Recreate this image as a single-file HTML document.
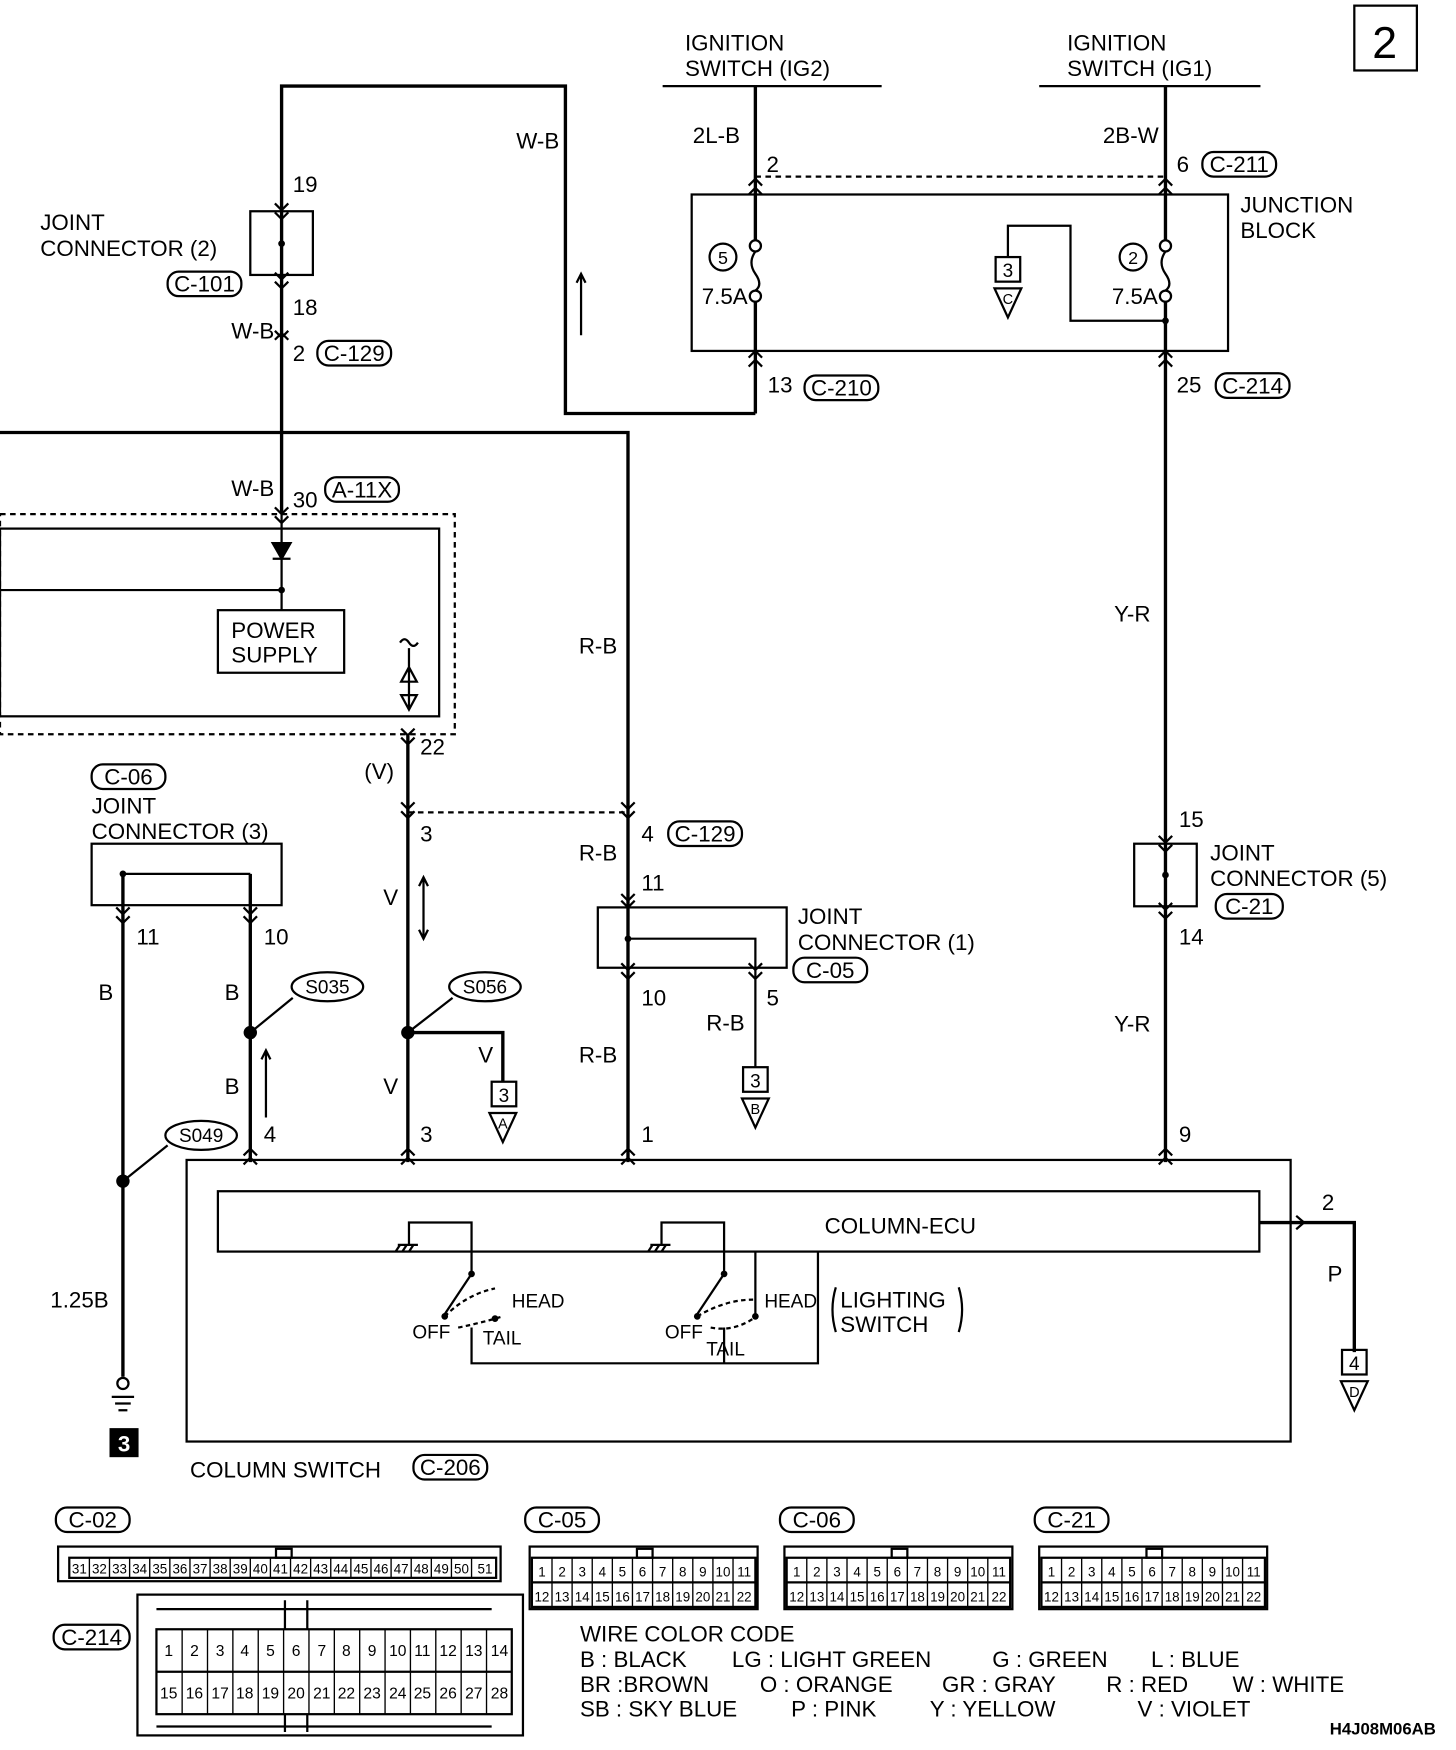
<!DOCTYPE html>
<html><head><meta charset="utf-8"><style>
html,body{margin:0;padding:0;background:#fff;}
svg{display:block}
text{font-family:"Liberation Sans",sans-serif;fill:#000}
.l{font-size:20px}
.p{font-size:12px;text-anchor:middle}
.c{text-anchor:middle}
</style></head><body>
<svg width="1456" height="1750" viewBox="0 0 1303 1566" xmlns="http://www.w3.org/2000/svg">
<g fill="none" stroke="#000" stroke-width="2">
<rect x="1212" y="5" width="56" height="58"/>
<line x1="593" y1="77" x2="789" y2="77"/>
<line x1="930" y1="77" x2="1128" y2="77"/>
<line x1="676" y1="77" x2="676" y2="215" stroke-width="3"/>
<line x1="676" y1="270" x2="676" y2="370" stroke-width="3"/>
<line x1="1043" y1="77" x2="1043" y2="215" stroke-width="3"/>
<line x1="1043" y1="270" x2="1043" y2="1040" stroke-width="3"/>
<line x1="676" y1="158" x2="1043" y2="158" stroke-dasharray="5,4"/>
<rect x="619" y="174" width="480" height="140"/>
<circle cx="676" cy="220" r="5"/><circle cx="676" cy="265" r="5"/>
<circle cx="1043" cy="220" r="5"/><circle cx="1043" cy="265" r="5"/>
<path d="M676 225 q-7 10 0 20 q7 10 0 15 M1043 225 q-7 10 0 20 q7 10 0 15"/>
<path d="M902 230 V202 H958 V287 H1043"/>
<rect x="891" y="230" width="22" height="22"/><path d="M890 258 L914 258 L902 284 Z"/>
<circle cx="647" cy="230" r="12"/><circle cx="1014" cy="230" r="12"/>
<path d="M676 370 H506 V77 H252 V460" stroke-width="3"/>
<path d="M520 300 V245 M516 253 L520 245 L524 253"/>
<rect x="224" y="189" width="56" height="57"/>
<path d="M0 387 H562 V1040" stroke-width="3"/>
<rect x="0" y="460" width="407" height="197" stroke-dasharray="5,4"/>
<rect x="0" y="473" width="393" height="168"/>
<line x1="252" y1="460" x2="252" y2="528"/>
<path d="M244 486 L260 486 L252 500 Z M244 500 H260" fill="#000"/>
<line x1="0" y1="528" x2="252" y2="528"/><line x1="252" y1="528" x2="252" y2="546"/>
<rect x="195" y="546" width="113" height="56"/>
<path d="M358 575 q4 -6 8 0 q4 6 8 0 M366 580 V635 M359 610 L373 610 L366 597 Z M359 622 L373 622 L366 635 Z"/>
<line x1="365" y1="657" x2="365" y2="1040" stroke-width="3"/>
<line x1="365" y1="727" x2="562" y2="727" stroke-dasharray="5,4"/>
<path d="M379 785 V840 M375 793 L379 785 L383 793 M375 832 L379 840 L383 832"/>
<path d="M365 924 H450 V968" stroke-width="3"/>
<rect x="440" y="968" width="22" height="22"/><path d="M438 996 L462 996 L450 1022 Z"/>
<rect x="535" y="812" width="169" height="54"/>
<path d="M562 840 H676 V955"/>
<rect x="665" y="955" width="22" height="22"/><path d="M664 983 L688 983 L676 1009 Z"/>
<rect x="1015" y="755" width="56" height="56"/>
<rect x="82" y="755" width="170" height="55"/>
<path d="M110 782 H224"/>
<line x1="110" y1="782" x2="110" y2="1232" stroke-width="3"/>
<line x1="224" y1="782" x2="224" y2="1040" stroke-width="3"/>
<path d="M238 1000 V940 M234 948 L238 940 L242 948"/>
<line x1="224" y1="924" x2="262" y2="893"/><line x1="365" y1="924" x2="405" y2="893"/><line x1="110" y1="1057" x2="150" y2="1025"/>
<circle cx="110" cy="1238" r="5"/><path d="M100 1250 H120 M103 1256 H117 M106 1262 H114"/>
<rect x="167" y="1038" width="988" height="252"/>
<rect x="195" y="1066" width="932" height="54"/>
<path d="M1127 1094 H1212 V1210" stroke-width="3"/>
<path d="M1160 1088 L1167 1094 L1160 1100"/>
<rect x="1201" y="1208" width="22" height="22"/><path d="M1200 1236 L1224 1236 L1212 1262 Z"/>
<path d="M356 1114 H374 M358 1114 l-4 6 M364 1114 l-4 6 M370 1114 l-4 6 M366 1114 V1094 H422 V1140"/>
<path d="M582 1114 H600 M584 1114 l-4 6 M590 1114 l-4 6 M596 1114 l-4 6 M592 1114 V1094 H648 V1140"/>
<path d="M676 1120 V1178"/>
<path d="M422 1140 L398 1176 M648 1140 L624 1176"/>
<path d="M398 1178 q20 -20 45 -25 M624 1178 q25 -15 50 -15" stroke-dasharray="4,3"/>
<path d="M410 1188 q20 -4 40 -10 M636 1188 q20 4 38 -8" stroke-dasharray="4,3"/>
<path d="M422 1188 V1220 H732 V1120 M648 1188 V1220"/>
<path d="M748 1152 q-6 20 0 40 M858 1152 q6 20 0 40"/>
<!-- connector chevrons -->
<path d="M670 166 l6 -6 l6 6 M670 174 l6 -6 l6 6 M1037 166 l6 -6 l6 6 M1037 174 l6 -6 l6 6 M670 320 l6 -6 l6 6 M670 328 l6 -6 l6 6 M1037 320 l6 -6 l6 6 M1037 328 l6 -6 l6 6
M246 182 l6 6 l6 -6 M246 190 l6 6 l6 -6 M246 244 l6 6 l6 -6 M246 252 l6 6 l6 -6 M246 296 l6 6 l6 -6 M246 304 l6 -6 l6 6 M246 454 l6 6 l6 -6 M246 462 l6 6 l6 -6
M359 652 l6 6 l6 -6 M359 660 l6 6 l6 -6 M359 718 l6 6 l6 -6 M359 726 l6 6 l6 -6 M556 718 l6 6 l6 -6 M556 726 l6 6 l6 -6
M556 800 l6 6 l6 -6 M556 806 l6 6 l6 -6 M556 862 l6 6 l6 -6 M556 870 l6 6 l6 -6 M670 862 l6 6 l6 -6 M670 870 l6 6 l6 -6
M104 812 l6 6 l6 -6 M104 820 l6 6 l6 -6 M218 812 l6 6 l6 -6 M218 820 l6 6 l6 -6 M1037 748 l6 6 l6 -6 M1037 756 l6 6 l6 -6 M1037 808 l6 6 l6 -6 M1037 816 l6 6 l6 -6
M218 1034 l6 -6 l6 6 M218 1042 l6 -6 l6 6 M359 1034 l6 -6 l6 6 M359 1042 l6 -6 l6 6 M556 1034 l6 -6 l6 6 M556 1042 l6 -6 l6 6 M1037 1034 l6 -6 l6 6 M1037 1042 l6 -6 l6 6"/>
<rect x="52" y="1384" width="396" height="31"/><rect x="62" y="1394" width="382" height="18"/><rect x="247" y="1386" width="14" height="8"/>
<rect x="474" y="1384" width="204" height="56"/><rect x="476" y="1394" width="200" height="44"/><line x1="476" y1="1416" x2="676" y2="1416"/><rect x="570" y="1386" width="14" height="8"/>
<rect x="702" y="1384" width="204" height="56"/><rect x="704" y="1394" width="200" height="44"/><line x1="704" y1="1416" x2="904" y2="1416"/><rect x="798" y="1386" width="14" height="8"/>
<rect x="930" y="1384" width="204" height="56"/><rect x="932" y="1394" width="200" height="44"/><line x1="932" y1="1416" x2="1132" y2="1416"/><rect x="1026" y="1386" width="14" height="8"/>
<rect x="123" y="1427" width="345" height="126"/><rect x="140" y="1458" width="318" height="76"/><line x1="140" y1="1496" x2="458" y2="1496"/>
<path d="M140 1440 H440 M140 1545 H440 M255 1432 V1458 M275 1432 V1458 M255 1534 V1550 M275 1534 V1550"/>
</g>
<g stroke="#000" stroke-width="1.2">
<path d="M62 1394 v18 m18 -18 v18 m18 -18 v18 m18 -18 v18 m18 -18 v18 m18 -18 v18 m18 -18 v18 m18 -18 v18 m18 -18 v18 m18 -18 v18 m18 -18 v18 m18 -18 v18 m18 -18 v18 m18 -18 v18 m18 -18 v18 m18 -18 v18 m18 -18 v18 m18 -18 v18 m18 -18 v18 m18 -18 v18 m18 -18 v18"/>
<path d="M494 1394 v44 m18 -44 v44 m18 -44 v44 m18 -44 v44 m18 -44 v44 m18 -44 v44 m18 -44 v44 m18 -44 v44 m18 -44 v44 m18 -44 v44"/>
<path d="M722 1394 v44 m18 -44 v44 m18 -44 v44 m18 -44 v44 m18 -44 v44 m18 -44 v44 m18 -44 v44 m18 -44 v44 m18 -44 v44 m18 -44 v44"/>
<path d="M950 1394 v44 m18 -44 v44 m18 -44 v44 m18 -44 v44 m18 -44 v44 m18 -44 v44 m18 -44 v44 m18 -44 v44 m18 -44 v44 m18 -44 v44"/>
<path d="M163 1458 v76 m22.7 -76 v76 m22.7 -76 v76 m22.7 -76 v76 m22.7 -76 v76 m22.7 -76 v76 m22.7 -76 v76 m22.7 -76 v76 m22.7 -76 v76 m22.7 -76 v76 m22.7 -76 v76 m22.7 -76 v76 m22.7 -76 v76"/>
</g>
<g fill="#000">
<circle cx="252" cy="218" r="3"/><circle cx="1043" cy="287" r="3"/><circle cx="252" cy="528" r="3"/>
<circle cx="562" cy="840" r="3"/><circle cx="1043" cy="783" r="3"/><circle cx="110" cy="782" r="3"/>
<circle cx="224" cy="924" r="6"/><circle cx="365" cy="924" r="6"/><circle cx="110" cy="1057" r="6"/>
<circle cx="422" cy="1140" r="3"/><circle cx="648" cy="1140" r="3"/><circle cx="398" cy="1178" r="3"/><circle cx="443" cy="1180" r="3"/><circle cx="624" cy="1178" r="3"/><circle cx="676" cy="1178" r="3"/>
<rect x="98" y="1278" width="26" height="26"/>
</g>
<g fill="none" stroke="#000" stroke-width="2">
<rect x="1076" y="136" width="66" height="22" rx="10"/><rect x="720" y="336" width="66" height="22" rx="10"/><rect x="1088" y="334" width="66" height="22" rx="10"/>
<rect x="150" y="243" width="66" height="22" rx="10"/><rect x="284" y="305" width="66" height="22" rx="10"/><rect x="291" y="427" width="66" height="22" rx="10"/>
<rect x="598" y="735" width="66" height="22" rx="10"/><rect x="710" y="857" width="66" height="22" rx="10"/><rect x="1088" y="800" width="60" height="22" rx="10"/>
<rect x="82" y="684" width="66" height="22" rx="10"/><rect x="370" y="1302" width="66" height="22" rx="10"/>
<rect x="50" y="1349" width="66" height="22" rx="10"/><rect x="470" y="1349" width="66" height="22" rx="10"/><rect x="698" y="1349" width="66" height="22" rx="10"/><rect x="926" y="1349" width="66" height="22" rx="10"/><rect x="48" y="1454" width="68" height="22" rx="10"/>
<ellipse cx="293" cy="883" rx="32" ry="13"/><ellipse cx="434" cy="883" rx="32" ry="13"/><ellipse cx="180" cy="1016" rx="32" ry="13"/>
</g>
<g class="l">
<text x="1228" y="52" style="font-size:40px">2</text>
<text x="613" y="45">IGNITION</text><text x="613" y="68">SWITCH (IG2)</text>
<text x="955" y="45">IGNITION</text><text x="955" y="68">SWITCH (IG1)</text>
<text x="620" y="128">2L-B</text><text x="686" y="154">2</text>
<text x="987" y="128">2B-W</text><text x="1053" y="154">6</text><text class="c" x="1109" y="154">C-211</text>
<text x="1110" y="190">JUNCTION</text><text x="1110" y="213">BLOCK</text>
<text class="c" x="647" y="236" style="font-size:16px">5</text><text class="c" x="1014" y="236" style="font-size:16px">2</text>
<text x="628" y="272">7.5A</text><text x="995" y="272">7.5A</text>
<text class="c" x="902" y="248" style="font-size:17px">3</text><text class="c" x="902" y="272" style="font-size:13px">C</text>
<text x="687" y="351">13</text><text class="c" x="753" y="354">C-210</text>
<text x="1053" y="351">25</text><text class="c" x="1121" y="352">C-214</text>
<text x="462" y="133">W-B</text>
<text x="262" y="172">19</text><text x="36" y="206">JOINT</text><text x="36" y="229">CONNECTOR (2)</text><text class="c" x="183" y="261">C-101</text>
<text x="262" y="282">18</text><text x="207" y="303">W-B</text><text x="262" y="323">2</text><text class="c" x="317" y="323">C-129</text>
<text x="207" y="444">W-B</text><text x="262" y="454">30</text><text class="c" x="324" y="445">A-11X</text>
<text x="207" y="571">POWER</text><text x="207" y="593">SUPPLY</text>
<text x="518" y="585">R-B</text>
<text x="376" y="675">22</text><text x="326" y="697">(V)</text><text x="376" y="753">3</text><text x="574" y="753">4</text><text class="c" x="631" y="753">C-129</text>
<text x="997" y="556">Y-R</text><text x="1055" y="740">15</text><text x="1083" y="770">JOINT</text><text x="1083" y="793">CONNECTOR (5)</text><text class="c" x="1118" y="818">C-21</text><text x="1055" y="845">14</text><text x="997" y="923">Y-R</text><text x="1055" y="1022">9</text>
<text class="c" x="115" y="702">C-06</text><text x="82" y="728">JOINT</text><text x="82" y="751">CONNECTOR (3)</text>
<text x="122" y="845">11</text><text x="236" y="845">10</text><text x="88" y="895">B</text><text x="201" y="895">B</text><text x="201" y="979">B</text><text x="236" y="1022">4</text>
<text class="c" x="293" y="889" style="font-size:17px">S035</text><text class="c" x="434" y="889" style="font-size:17px">S056</text><text class="c" x="180" y="1022" style="font-size:17px">S049</text>
<text x="343" y="810">V</text><text x="343" y="979">V</text><text x="428" y="951">V</text><text x="376" y="1022">3</text>
<text class="c" x="451" y="986" style="font-size:17px">3</text><text class="c" x="450" y="1010" style="font-size:13px">A</text>
<text x="518" y="770">R-B</text><text x="574" y="797">11</text><text x="714" y="827">JOINT</text><text x="714" y="850">CONNECTOR (1)</text><text class="c" x="743" y="875">C-05</text>
<text x="574" y="900">10</text><text x="686" y="900">5</text><text x="632" y="922">R-B</text><text x="518" y="951">R-B</text><text x="574" y="1022">1</text>
<text class="c" x="676" y="973" style="font-size:17px">3</text><text class="c" x="676" y="997" style="font-size:13px">B</text>
<text x="45" y="1170">1.25B</text><text class="c" x="111" y="1299" style="fill:#fff;font-weight:bold">3</text>
<text x="738" y="1104">COLUMN-ECU</text>
<text x="1183" y="1083">2</text><text x="1188" y="1147">P</text>
<text class="c" x="1212" y="1226" style="font-size:17px">4</text><text class="c" x="1212" y="1250" style="font-size:13px">D</text>
<text x="458" y="1170" style="font-size:17px">HEAD</text><text x="684" y="1170" style="font-size:17px">HEAD</text>
<text x="369" y="1198" style="font-size:17px">OFF</text><text x="595" y="1198" style="font-size:17px">OFF</text>
<text x="432" y="1203" style="font-size:17px">TAIL</text><text x="632" y="1213" style="font-size:17px">TAIL</text>
<text x="752" y="1170">LIGHTING</text><text x="752" y="1192">SWITCH</text>
<text x="170" y="1322">COLUMN SWITCH</text><text class="c" x="403" y="1320">C-206</text>
<text class="c" x="83" y="1367">C-02</text><text class="c" x="503" y="1367">C-05</text><text class="c" x="731" y="1367">C-06</text><text class="c" x="959" y="1367">C-21</text><text class="c" x="82" y="1472">C-214</text>
<text x="519" y="1469">WIRE COLOR CODE</text>
<text x="519" y="1492">B : BLACK</text><text x="655" y="1492">LG : LIGHT GREEN</text><text x="888" y="1492">G : GREEN</text><text x="1030" y="1492">L : BLUE</text>
<text x="519" y="1514">BR :BROWN</text><text x="680" y="1514">O : ORANGE</text><text x="843" y="1514">GR : GRAY</text><text x="990" y="1514">R : RED</text><text x="1103" y="1514">W : WHITE</text>
<text x="519" y="1536">SB : SKY BLUE</text><text x="708" y="1536">P : PINK</text><text x="832" y="1536">Y : YELLOW</text><text x="1018" y="1536">V : VIOLET</text>
<text x="1190" y="1552" style="font-size:15px;font-weight:bold">H4J08M06AB</text>
</g>
<g class="p">
<text x="71" y="1408">31</text><text x="89" y="1408">32</text><text x="107" y="1408">33</text><text x="125" y="1408">34</text><text x="143" y="1408">35</text><text x="161" y="1408">36</text><text x="179" y="1408">37</text><text x="197" y="1408">38</text><text x="215" y="1408">39</text><text x="233" y="1408">40</text><text x="251" y="1408">41</text><text x="269" y="1408">42</text><text x="287" y="1408">43</text><text x="305" y="1408">44</text><text x="323" y="1408">45</text><text x="341" y="1408">46</text><text x="359" y="1408">47</text><text x="377" y="1408">48</text><text x="395" y="1408">49</text><text x="413" y="1408">50</text><text x="434" y="1408">51</text>
<text x="485" y="1411">1</text><text x="503" y="1411">2</text><text x="521" y="1411">3</text><text x="539" y="1411">4</text><text x="557" y="1411">5</text><text x="575" y="1411">6</text><text x="593" y="1411">7</text><text x="611" y="1411">8</text><text x="629" y="1411">9</text><text x="647" y="1411">10</text><text x="666" y="1411">11</text>
<text x="485" y="1433">12</text><text x="503" y="1433">13</text><text x="521" y="1433">14</text><text x="539" y="1433">15</text><text x="557" y="1433">16</text><text x="575" y="1433">17</text><text x="593" y="1433">18</text><text x="611" y="1433">19</text><text x="629" y="1433">20</text><text x="647" y="1433">21</text><text x="666" y="1433">22</text>
<text x="713" y="1411">1</text><text x="731" y="1411">2</text><text x="749" y="1411">3</text><text x="767" y="1411">4</text><text x="785" y="1411">5</text><text x="803" y="1411">6</text><text x="821" y="1411">7</text><text x="839" y="1411">8</text><text x="857" y="1411">9</text><text x="875" y="1411">10</text><text x="894" y="1411">11</text>
<text x="713" y="1433">12</text><text x="731" y="1433">13</text><text x="749" y="1433">14</text><text x="767" y="1433">15</text><text x="785" y="1433">16</text><text x="803" y="1433">17</text><text x="821" y="1433">18</text><text x="839" y="1433">19</text><text x="857" y="1433">20</text><text x="875" y="1433">21</text><text x="894" y="1433">22</text>
<text x="941" y="1411">1</text><text x="959" y="1411">2</text><text x="977" y="1411">3</text><text x="995" y="1411">4</text><text x="1013" y="1411">5</text><text x="1031" y="1411">6</text><text x="1049" y="1411">7</text><text x="1067" y="1411">8</text><text x="1085" y="1411">9</text><text x="1103" y="1411">10</text><text x="1122" y="1411">11</text>
<text x="941" y="1433">12</text><text x="959" y="1433">13</text><text x="977" y="1433">14</text><text x="995" y="1433">15</text><text x="1013" y="1433">16</text><text x="1031" y="1433">17</text><text x="1049" y="1433">18</text><text x="1067" y="1433">19</text><text x="1085" y="1433">20</text><text x="1103" y="1433">21</text><text x="1122" y="1433">22</text>
</g>
<g class="p" style="font-size:14px">
<text x="151" y="1482">1</text><text x="174" y="1482">2</text><text x="197" y="1482">3</text><text x="219" y="1482">4</text><text x="242" y="1482">5</text><text x="265" y="1482">6</text><text x="288" y="1482">7</text><text x="310" y="1482">8</text><text x="333" y="1482">9</text><text x="356" y="1482">10</text><text x="378" y="1482">11</text><text x="401" y="1482">12</text><text x="424" y="1482">13</text><text x="447" y="1482">14</text>
<text x="151" y="1520">15</text><text x="174" y="1520">16</text><text x="197" y="1520">17</text><text x="219" y="1520">18</text><text x="242" y="1520">19</text><text x="265" y="1520">20</text><text x="288" y="1520">21</text><text x="310" y="1520">22</text><text x="333" y="1520">23</text><text x="356" y="1520">24</text><text x="378" y="1520">25</text><text x="401" y="1520">26</text><text x="424" y="1520">27</text><text x="447" y="1520">28</text>
</g>
</svg>
</body></html>
